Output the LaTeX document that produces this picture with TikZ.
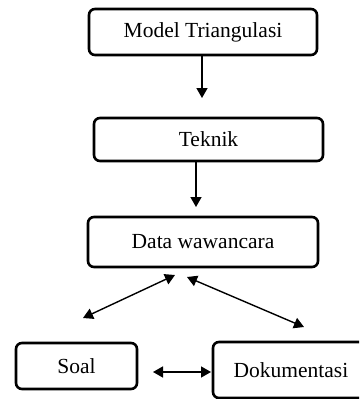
\documentclass[tikz,border=0pt]{standalone}
\usepackage{fontspec}
\setmainfont{Liberation Serif}
\usetikzlibrary{arrows.meta}
\begin{document}
\begin{tikzpicture}[x=1pt,y=-1pt,
  box/.style={draw=black,line width=2.6pt,rounded corners=6pt,inner sep=0pt,
    font=\fontsize{21.5}{25}\selectfont},
  conn/.style={line width=1.4pt,-{Triangle[length=10pt,width=11pt]}},
  bconn/.style={line width=1.4pt,{Triangle[length=10pt,width=11pt]}-{Triangle[length=10pt,width=11pt]}}]
\useasboundingbox (0,0) rectangle (359,399);
\clip (0,0) rectangle (359,399);
\node[box,minimum width=228pt,minimum height=46pt] (m) at (203,32) {Model Triangulasi};
\node[box,minimum width=229pt,minimum height=43pt] (t) at (208.5,139.5) {Teknik};
\node[box,minimum width=230pt,minimum height=50pt] (d) at (203,242) {Data wawancara};
\node[box,minimum width=121pt,minimum height=46pt] (s) at (76.5,366) {Soal};
\node[box,minimum width=196pt,minimum height=56pt] (k) at (311,370) {Dokumentasi\rule{40pt}{0pt}};
\coordinate (a1s) at (202,55);
\coordinate (a1e) at (202,98);
\coordinate (a2s) at (196,161);
\coordinate (a2e) at (196,207);
\coordinate (l1) at (83,318);
\coordinate (l2) at (175,275);
\coordinate (r1) at (187,277);
\coordinate (r2) at (304,327);
\coordinate (h1) at (153,372);
\coordinate (h2) at (211,372);
\draw[conn] (a1s) -- (a1e);
\draw[conn] (a2s) -- (a2e);
\draw[bconn] (l1) -- (l2);
\draw[bconn] (r1) -- (r2);
\draw[bconn] (h1) -- (h2);
\end{tikzpicture}
\end{document}
